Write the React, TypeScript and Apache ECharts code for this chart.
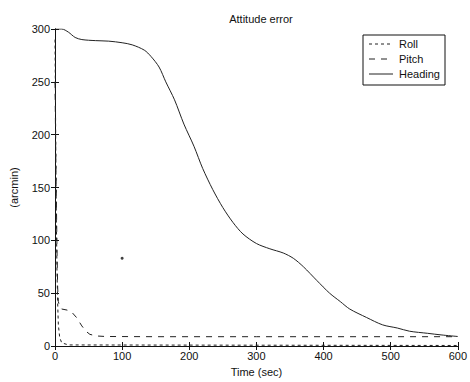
import React, { useEffect, useRef } from "react";
import * as echarts from "echarts";

const title = "Attitude error";
const xName = "Time (sec)";
const yName = "(arcmin)";
const xTicks = { min: 0, max: 600, interval: 100 };
const yTicks = { min: 0, max: 300, interval: 50 };

const seriesNames = ["Roll", "Pitch", "Heading"];
const dashStyles: (number[] | null)[] = [[3, 3], [6, 6], null];

const rollData: [number, number][] = [
  [0, 290], [0.5, 250], [1, 200], [1.5, 160], [2, 120], [3, 70], [4, 40], [5, 20], [7, 8], [10, 3], [20, 1], [600, 0.5],
];
const pitchData: [number, number][] = [
  [0, 250], [1, 190], [2, 140], [3, 90], [4, 55], [5, 42], [7, 37], [10, 35], [18, 34], [25, 32], [32, 27], [40, 19], [46, 14], [52, 11], [62, 9.5], [75, 9], [150, 8.8], [300, 8.8], [450, 8.8], [600, 8.8],
];
const headingData: [number, number][] = [
  [0, 300], [10, 300], [20, 297], [30, 292], [40, 290], [60, 289], [80, 288.5], [100, 287], [115, 285], [133, 280], [143, 274], [155, 264], [165, 250], [178, 233], [192, 210], [207, 189], [220, 168], [235, 148], [250, 131], [265, 117], [280, 106], [300, 97], [320, 92], [340, 88], [355, 83], [370, 75], [390, 62], [409, 50], [425, 42], [439, 35], [464, 27], [488, 20], [510, 17], [528, 14], [555, 12], [575, 10.5], [600, 9],
];
const strayPoint: [number, number][] = [[100, 83]];

const font = "'Liberation Sans', Arial, sans-serif";

export default function App() {
  const ref = useRef<HTMLDivElement>(null);
  useEffect(() => {
    if (!ref.current) return;
    const chart = echarts.init(ref.current, undefined, { renderer: "svg" });
    const axisLine = { show: true, lineStyle: { color: "#111", width: 1 } };
    const tick = { show: true, inside: true, length: 4, lineStyle: { color: "#111" } };
    const legendLeft = 363;
    const legendTop = 35;
    const legendItems: any[] = [
      {
        type: "rect",
        shape: { x: legendLeft, y: legendTop, width: 82, height: 50 },
        style: { fill: "#fff", stroke: "#111", lineWidth: 1 },
      },
    ];
    seriesNames.forEach((name, i) => {
      const y = legendTop + 9 + i * 15;
      legendItems.push({
        type: "line",
        shape: { x1: legendLeft + 6, y1: y, x2: legendLeft + 30, y2: y },
        style: { stroke: "#222", lineWidth: 1, lineDash: dashStyles[i] || undefined },
      });
      legendItems.push({
        type: "text",
        x: legendLeft + 36,
        y,
        style: { text: name, fontFamily: font, fontSize: 11, fill: "#111", verticalAlign: "middle", align: "left" },
      });
    });
    chart.setOption({
      animation: false,
      backgroundColor: "#fff",
      textStyle: { fontFamily: font },
      title: {
        text: title,
        left: 256,
        textAlign: "center",
        top: 8,
        textStyle: { fontFamily: font, fontSize: 11, fontWeight: "normal", color: "#111" },
      },
      grid: { left: 53, top: 29, width: 406, height: 320, containLabel: false },
      graphic: legendItems,
      xAxis: [
        {
          type: "value",
          ...xTicks,
          name: xName,
          nameLocation: "middle",
          nameGap: 20,
          nameTextStyle: { fontFamily: font, fontSize: 11, color: "#111" },
          axisLine,
          axisTick: tick,
          axisLabel: { margin: 4, fontFamily: font, fontSize: 11, color: "#111" },
          splitLine: { show: false },
        },
        {
          type: "value",
          ...xTicks,
          position: "top",
          axisLine,
          axisTick: tick,
          axisLabel: { show: false },
          splitLine: { show: false },
        },
      ],
      yAxis: [
        {
          type: "value",
          ...yTicks,
          name: yName,
          nameLocation: "middle",
          nameGap: 36,
          nameTextStyle: { fontFamily: font, fontSize: 11, color: "#111" },
          axisLine,
          axisTick: tick,
          axisLabel: { margin: 5, fontFamily: font, fontSize: 11, color: "#111" },
          splitLine: { show: false },
        },
        {
          type: "value",
          ...yTicks,
          position: "right",
          axisLine,
          axisTick: tick,
          axisLabel: { show: false },
          splitLine: { show: false },
        },
      ],
      series: [
        {
          name: seriesNames[0],
          type: "line",
          data: rollData,
          symbol: "none",
          lineStyle: { color: "#222", width: 1, type: dashStyles[0] },
        },
        {
          name: seriesNames[1],
          type: "line",
          data: pitchData,
          symbol: "none",
          lineStyle: { color: "#222", width: 1, type: dashStyles[1] },
        },
        {
          name: seriesNames[2],
          type: "line",
          data: headingData,
          symbol: "none",
          smooth: 0.3,
          lineStyle: { color: "#222", width: 1, type: "solid" },
        },
        {
          name: "stray",
          type: "scatter",
          data: strayPoint,
          symbolSize: 3,
          itemStyle: { color: "#111" },
        },
      ],
    });
    return () => chart.dispose();
  }, []);
  return <div ref={ref} style={{ width: 470, height: 382, position: "absolute", left: 0, top: 0 }} />;
}
